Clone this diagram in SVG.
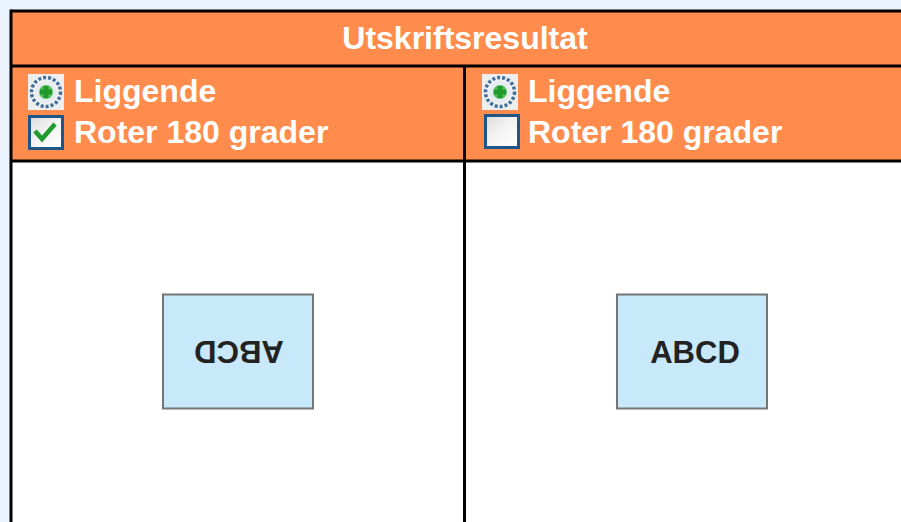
<svg xmlns="http://www.w3.org/2000/svg" width="901" height="522" viewBox="0 0 901 522">
<defs>
<linearGradient id="cbg" x1="0" y1="0" x2="1" y2="1">
<stop offset="0" stop-color="#dcdcdc"/><stop offset="0.5" stop-color="#f4f4f4"/><stop offset="1" stop-color="#ffffff"/>
</linearGradient>
<g id="radio">
<rect x="0" y="0" width="36" height="36" fill="#eeeeee"/>
<circle cx="18" cy="18" r="14.5" fill="#f2f2f2" stroke="#3f6f9a" stroke-width="3.5" stroke-dasharray="3 2"/>
<circle cx="18" cy="18" r="11" fill="#e6ecf0"/>
<circle cx="18" cy="18" r="7" fill="#5cc060"/>
<path d="M15.5 12h5v3.5h3.5v5h-3.5v3.5h-5v-3.5h-3.5v-5h3.5z" fill="#1f9b2c"/>
</g>
<g id="cbox">
<rect x="1.5" y="1.5" width="33" height="32" fill="url(#cbg)" stroke="#1d5688" stroke-width="3"/>
</g>
</defs>
<style>
.bg{fill:#ebf4fe}
.hdr{fill:#ff8c4c}
.line{stroke:#000;stroke-width:3}
.wt{font-family:"Liberation Sans",Arial,sans-serif;font-weight:bold;fill:#fff}
.box{fill:#c8e9f9;stroke:#757575;stroke-width:2}
.bt{font-family:"Liberation Sans",Arial,sans-serif;font-weight:bold;fill:#222;font-size:31px;text-anchor:middle}
</style>
<rect class="bg" x="0" y="0" width="901" height="522"/>
<g id="table">
<rect class="hdr" x="11" y="11" width="890" height="150"/>
<rect x="11" y="161" width="890" height="361" fill="#fff"/>
</g>
<g id="title">
<text class="wt" x="465" y="49" font-size="32" text-anchor="middle">Utskriftsresultat</text>
</g>
<g id="left-options">
<use href="#radio" x="28" y="74"/>
<text class="wt" x="74" y="102" font-size="32">Liggende</text>
<use href="#cbox" x="28" y="115"/>
<polyline points="35,131 42,139 55,124" fill="none" stroke="#1f9b2c" stroke-width="4.5"/>
<text class="wt" x="74" y="143" font-size="32">Roter 180 grader</text>
</g>
<g id="right-options">
<use href="#radio" x="482" y="74"/>
<text class="wt" x="528" y="102" font-size="32">Liggende</text>
<use href="#cbox" x="484" y="114"/>
<text class="wt" x="528" y="143" font-size="32">Roter 180 grader</text>
</g>
<g id="left-page">
<rect class="box" x="163" y="294.5" width="150" height="114"/>
<text class="bt" x="239" y="363" transform="rotate(180 239 352)">ABCD</text>
</g>
<g id="right-page">
<rect class="box" x="617" y="294.5" width="150" height="114"/>
<text class="bt" x="695" y="363">ABCD</text>
</g>
<g id="connectors">
<line class="line" x1="11" y1="11" x2="901" y2="11"/>
<line class="line" x1="11" y1="66" x2="901" y2="66"/>
<line class="line" x1="11" y1="161" x2="901" y2="161"/>
<line class="line" x1="11" y1="9.5" x2="11" y2="522"/>
<line class="line" x1="464.5" y1="66" x2="464.5" y2="522"/>
</g>
</svg>
